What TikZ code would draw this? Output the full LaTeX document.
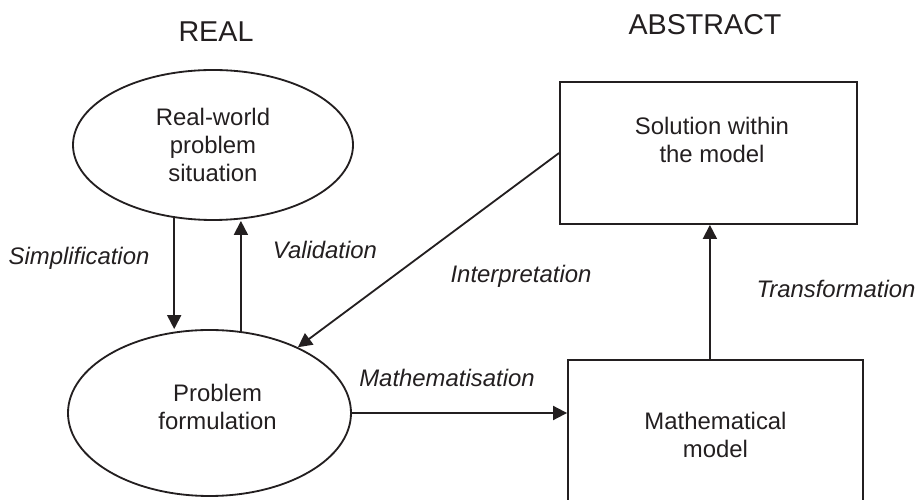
\documentclass[tikz,border=0pt]{standalone}
\usepackage{fontspec}
\setmainfont{Liberation Sans}
\usepackage{tikz}
\usetikzlibrary{shapes.geometric, arrows.meta, positioning}
\definecolor{ink}{HTML}{231F20}
\tikzstyle{stage} = [ellipse, draw, line width=1.3pt, align=center, font=\fontsize{17}{20}\selectfont]
\tikzstyle{box} = [rectangle, draw, line width=1.3pt, align=center, font=\fontsize{17}{20}\selectfont]
\tikzstyle{arrow} = [line width=1.3pt, -{Triangle[length=10pt, width=10pt]}]
\tikzstyle{phase} = [anchor=base, font=\fontsize{17}{20}\selectfont\itshape]
\tikzstyle{side} = [anchor=base, font=\fontsize{20.4}{24}\selectfont]

\begin{document}
\begin{tikzpicture}[color=ink]
\clip (0,0) rectangle (23,12.5);
% headings
\node[side] (hreal) at (5.4,11.46) {REAL};
\node[side] (habs) at (17.625,11.625) {ABSTRACT};

% real side
\node[stage, minimum width=7cm, minimum height=3.75cm] (world) at (5.325,8.875) {Real-world\\problem\\situation};
\node[stage, minimum width=7.075cm, minimum height=4.15cm] (prob) at (5.2375,2.175) {};
\node[align=center, font=\fontsize{17}{20}\selectfont] (probtext) at (5.44,2.32) {Problem\\formulation};

% abstract side
\node[box, minimum width=7.425cm, minimum height=3.55cm] (sol) at (17.7125,8.675) {};
\node[align=center, font=\fontsize{17}{20}\selectfont] (soltext) at (17.8,8.99) {Solution within\\the model};
\node[box, minimum width=7.375cm, minimum height=3.75cm] (math) at (17.8875,1.625) {Mathematical\\model};

% arrows
\draw[arrow] (world.242) -- (world.242 |- prob.north);
\draw[arrow] (prob.69) -- (prob.69 |- world.south);
\draw[arrow] (sol.west) -- (prob);
\draw[arrow] (prob) -- (prob -| math.west);
\draw[arrow] ([xshift=1pt]sol.south |- math.north) -- ([xshift=1pt]sol.south);

% cycle labels
\node[phase] (simp) at (1.975,5.875) {Simplification};
\node[phase] (valid) at (8.125,6.025) {Validation};
\node[phase] (interp) at (13.025,5.425) {Interpretation};
\node[phase] (trans) at (20.9,5.05) {Transformation};
\node[phase] (mathz) at (11.175,2.825) {Mathematisation};
\end{tikzpicture}
\end{document}
